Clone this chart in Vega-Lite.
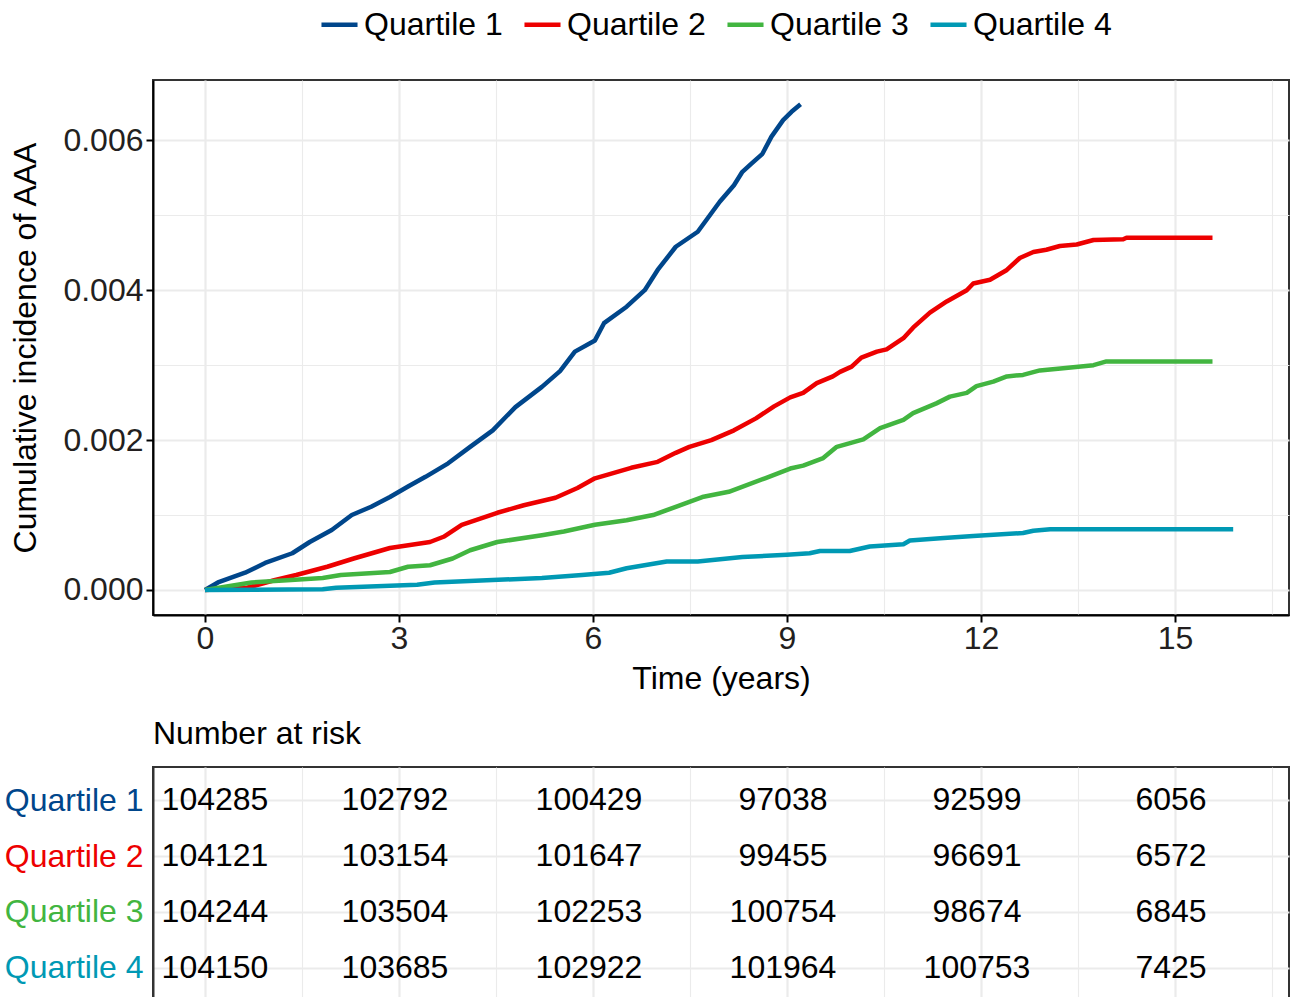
{
  "$schema": "https://vega.github.io/schema/vega-lite/v6.json",
  "background": "white",
  "padding": {"left": 3, "top": 4, "right": 0, "bottom": 0},
  "config": {
    "font": "Liberation Sans",
    "view": {"stroke": "#333333", "strokeWidth": 2},
    "axis": {"labelFont": "Liberation Sans", "titleFont": "Liberation Sans"}
  },
  "spacing": 22,
  "datasets": {
    "curves": [
      {"group": "Quartile 1", "t": 0, "v": 0},
      {"group": "Quartile 1", "t": 0.2, "v": 0.0001},
      {"group": "Quartile 1", "t": 0.62, "v": 0.00023},
      {"group": "Quartile 1", "t": 0.93, "v": 0.00036},
      {"group": "Quartile 1", "t": 1.35, "v": 0.00049},
      {"group": "Quartile 1", "t": 1.62, "v": 0.00064},
      {"group": "Quartile 1", "t": 1.96, "v": 0.0008},
      {"group": "Quartile 1", "t": 2.27, "v": 0.001},
      {"group": "Quartile 1", "t": 2.57, "v": 0.00111},
      {"group": "Quartile 1", "t": 2.86, "v": 0.00124},
      {"group": "Quartile 1", "t": 3.14, "v": 0.00138},
      {"group": "Quartile 1", "t": 3.41, "v": 0.00151},
      {"group": "Quartile 1", "t": 3.76, "v": 0.00169},
      {"group": "Quartile 1", "t": 4.1, "v": 0.00191},
      {"group": "Quartile 1", "t": 4.45, "v": 0.00213},
      {"group": "Quartile 1", "t": 4.8, "v": 0.00244},
      {"group": "Quartile 1", "t": 5.21, "v": 0.00271},
      {"group": "Quartile 1", "t": 5.49, "v": 0.00292},
      {"group": "Quartile 1", "t": 5.72, "v": 0.00318},
      {"group": "Quartile 1", "t": 6.03, "v": 0.00333},
      {"group": "Quartile 1", "t": 6.17, "v": 0.00356},
      {"group": "Quartile 1", "t": 6.52, "v": 0.00378},
      {"group": "Quartile 1", "t": 6.8, "v": 0.004},
      {"group": "Quartile 1", "t": 7.0, "v": 0.00427},
      {"group": "Quartile 1", "t": 7.28, "v": 0.00458},
      {"group": "Quartile 1", "t": 7.62, "v": 0.00478},
      {"group": "Quartile 1", "t": 7.79, "v": 0.00498},
      {"group": "Quartile 1", "t": 7.96, "v": 0.00518},
      {"group": "Quartile 1", "t": 8.18, "v": 0.0054},
      {"group": "Quartile 1", "t": 8.31, "v": 0.00558},
      {"group": "Quartile 1", "t": 8.45, "v": 0.00569},
      {"group": "Quartile 1", "t": 8.62, "v": 0.00582},
      {"group": "Quartile 1", "t": 8.76, "v": 0.00605},
      {"group": "Quartile 1", "t": 8.94, "v": 0.00627},
      {"group": "Quartile 1", "t": 9.07, "v": 0.00638},
      {"group": "Quartile 1", "t": 9.21, "v": 0.00648},
      {"group": "Quartile 2", "t": 0, "v": 0},
      {"group": "Quartile 2", "t": 0.65, "v": 0.00003},
      {"group": "Quartile 2", "t": 1.07, "v": 0.00013},
      {"group": "Quartile 2", "t": 1.41, "v": 0.0002},
      {"group": "Quartile 2", "t": 1.89, "v": 0.00031},
      {"group": "Quartile 2", "t": 2.3, "v": 0.00042},
      {"group": "Quartile 2", "t": 2.86, "v": 0.00056},
      {"group": "Quartile 2", "t": 3.48, "v": 0.00064},
      {"group": "Quartile 2", "t": 3.69, "v": 0.00071},
      {"group": "Quartile 2", "t": 3.97, "v": 0.00087},
      {"group": "Quartile 2", "t": 4.52, "v": 0.00103},
      {"group": "Quartile 2", "t": 4.93, "v": 0.00113},
      {"group": "Quartile 2", "t": 5.42, "v": 0.00123},
      {"group": "Quartile 2", "t": 5.76, "v": 0.00136},
      {"group": "Quartile 2", "t": 6.03, "v": 0.00149},
      {"group": "Quartile 2", "t": 6.59, "v": 0.00163},
      {"group": "Quartile 2", "t": 7.0, "v": 0.00171},
      {"group": "Quartile 2", "t": 7.28, "v": 0.00183},
      {"group": "Quartile 2", "t": 7.49, "v": 0.00191},
      {"group": "Quartile 2", "t": 7.83, "v": 0.002},
      {"group": "Quartile 2", "t": 8.18, "v": 0.00213},
      {"group": "Quartile 2", "t": 8.52, "v": 0.00229},
      {"group": "Quartile 2", "t": 8.8, "v": 0.00245},
      {"group": "Quartile 2", "t": 9.05, "v": 0.00257},
      {"group": "Quartile 2", "t": 9.25, "v": 0.00263},
      {"group": "Quartile 2", "t": 9.46, "v": 0.00276},
      {"group": "Quartile 2", "t": 9.71, "v": 0.00285},
      {"group": "Quartile 2", "t": 9.82, "v": 0.00291},
      {"group": "Quartile 2", "t": 10.0, "v": 0.00298},
      {"group": "Quartile 2", "t": 10.15, "v": 0.0031},
      {"group": "Quartile 2", "t": 10.39, "v": 0.00318},
      {"group": "Quartile 2", "t": 10.54, "v": 0.00321},
      {"group": "Quartile 2", "t": 10.8, "v": 0.00336},
      {"group": "Quartile 2", "t": 10.95, "v": 0.0035},
      {"group": "Quartile 2", "t": 11.21, "v": 0.0037},
      {"group": "Quartile 2", "t": 11.47, "v": 0.00385},
      {"group": "Quartile 2", "t": 11.78, "v": 0.004},
      {"group": "Quartile 2", "t": 11.88, "v": 0.00409},
      {"group": "Quartile 2", "t": 12.14, "v": 0.00414},
      {"group": "Quartile 2", "t": 12.4, "v": 0.00427},
      {"group": "Quartile 2", "t": 12.6, "v": 0.00443},
      {"group": "Quartile 2", "t": 12.81, "v": 0.00451},
      {"group": "Quartile 2", "t": 13.01, "v": 0.00454},
      {"group": "Quartile 2", "t": 13.22, "v": 0.00459},
      {"group": "Quartile 2", "t": 13.48, "v": 0.00461},
      {"group": "Quartile 2", "t": 13.74, "v": 0.00467},
      {"group": "Quartile 2", "t": 14.2, "v": 0.00468},
      {"group": "Quartile 2", "t": 14.25, "v": 0.0047},
      {"group": "Quartile 2", "t": 15.58, "v": 0.0047},
      {"group": "Quartile 3", "t": 0, "v": 0},
      {"group": "Quartile 3", "t": 0.72, "v": 0.0001},
      {"group": "Quartile 3", "t": 1.27, "v": 0.00013},
      {"group": "Quartile 3", "t": 1.82, "v": 0.00016},
      {"group": "Quartile 3", "t": 2.1, "v": 0.0002},
      {"group": "Quartile 3", "t": 2.86, "v": 0.00024},
      {"group": "Quartile 3", "t": 3.14, "v": 0.00031},
      {"group": "Quartile 3", "t": 3.48, "v": 0.00033},
      {"group": "Quartile 3", "t": 3.83, "v": 0.00042},
      {"group": "Quartile 3", "t": 4.1, "v": 0.00053},
      {"group": "Quartile 3", "t": 4.52, "v": 0.00064},
      {"group": "Quartile 3", "t": 5.21, "v": 0.00073},
      {"group": "Quartile 3", "t": 5.55, "v": 0.00078},
      {"group": "Quartile 3", "t": 6.03, "v": 0.00087},
      {"group": "Quartile 3", "t": 6.52, "v": 0.00093},
      {"group": "Quartile 3", "t": 6.93, "v": 0.001},
      {"group": "Quartile 3", "t": 7.28, "v": 0.00111},
      {"group": "Quartile 3", "t": 7.69, "v": 0.00124},
      {"group": "Quartile 3", "t": 8.1, "v": 0.00131},
      {"group": "Quartile 3", "t": 8.66, "v": 0.00149},
      {"group": "Quartile 3", "t": 9.05, "v": 0.00162},
      {"group": "Quartile 3", "t": 9.25, "v": 0.00166},
      {"group": "Quartile 3", "t": 9.56, "v": 0.00176},
      {"group": "Quartile 3", "t": 9.77, "v": 0.00191},
      {"group": "Quartile 3", "t": 10.18, "v": 0.00201},
      {"group": "Quartile 3", "t": 10.44, "v": 0.00216},
      {"group": "Quartile 3", "t": 10.8, "v": 0.00227},
      {"group": "Quartile 3", "t": 10.95, "v": 0.00236},
      {"group": "Quartile 3", "t": 11.31, "v": 0.00249},
      {"group": "Quartile 3", "t": 11.52, "v": 0.00258},
      {"group": "Quartile 3", "t": 11.78, "v": 0.00263},
      {"group": "Quartile 3", "t": 11.93, "v": 0.00272},
      {"group": "Quartile 3", "t": 12.19, "v": 0.00278},
      {"group": "Quartile 3", "t": 12.4, "v": 0.00285},
      {"group": "Quartile 3", "t": 12.65, "v": 0.00287},
      {"group": "Quartile 3", "t": 12.91, "v": 0.00293},
      {"group": "Quartile 3", "t": 13.27, "v": 0.00296},
      {"group": "Quartile 3", "t": 13.74, "v": 0.003},
      {"group": "Quartile 3", "t": 13.94, "v": 0.00305},
      {"group": "Quartile 3", "t": 15.58, "v": 0.00305},
      {"group": "Quartile 4", "t": 0, "v": 0},
      {"group": "Quartile 4", "t": 1.82, "v": 0.00001},
      {"group": "Quartile 4", "t": 2.03, "v": 0.00003},
      {"group": "Quartile 4", "t": 3.28, "v": 0.00007},
      {"group": "Quartile 4", "t": 3.55, "v": 0.0001},
      {"group": "Quartile 4", "t": 5.21, "v": 0.00016},
      {"group": "Quartile 4", "t": 5.83, "v": 0.0002},
      {"group": "Quartile 4", "t": 6.25, "v": 0.00023},
      {"group": "Quartile 4", "t": 6.52, "v": 0.00029},
      {"group": "Quartile 4", "t": 7.14, "v": 0.00038},
      {"group": "Quartile 4", "t": 7.62, "v": 0.00038},
      {"group": "Quartile 4", "t": 8.31, "v": 0.00044},
      {"group": "Quartile 4", "t": 9.0, "v": 0.00047},
      {"group": "Quartile 4", "t": 9.35, "v": 0.00049},
      {"group": "Quartile 4", "t": 9.51, "v": 0.00052},
      {"group": "Quartile 4", "t": 9.97, "v": 0.00052},
      {"group": "Quartile 4", "t": 10.28, "v": 0.00058},
      {"group": "Quartile 4", "t": 10.8, "v": 0.00061},
      {"group": "Quartile 4", "t": 10.9, "v": 0.00066},
      {"group": "Quartile 4", "t": 11.37, "v": 0.00069},
      {"group": "Quartile 4", "t": 11.88, "v": 0.00072},
      {"group": "Quartile 4", "t": 12.65, "v": 0.00076},
      {"group": "Quartile 4", "t": 12.81, "v": 0.00079},
      {"group": "Quartile 4", "t": 13.07, "v": 0.00081},
      {"group": "Quartile 4", "t": 15.9, "v": 0.00081}
    ],
    "risk": [
      {"group": "Quartile 1", "t": 0, "n": "104285"},
      {"group": "Quartile 1", "t": 3, "n": "102792"},
      {"group": "Quartile 1", "t": 6, "n": "100429"},
      {"group": "Quartile 1", "t": 9, "n": "97038"},
      {"group": "Quartile 1", "t": 12, "n": "92599"},
      {"group": "Quartile 1", "t": 15, "n": "6056"},
      {"group": "Quartile 2", "t": 0, "n": "104121"},
      {"group": "Quartile 2", "t": 3, "n": "103154"},
      {"group": "Quartile 2", "t": 6, "n": "101647"},
      {"group": "Quartile 2", "t": 9, "n": "99455"},
      {"group": "Quartile 2", "t": 12, "n": "96691"},
      {"group": "Quartile 2", "t": 15, "n": "6572"},
      {"group": "Quartile 3", "t": 0, "n": "104244"},
      {"group": "Quartile 3", "t": 3, "n": "103504"},
      {"group": "Quartile 3", "t": 6, "n": "102253"},
      {"group": "Quartile 3", "t": 9, "n": "100754"},
      {"group": "Quartile 3", "t": 12, "n": "98674"},
      {"group": "Quartile 3", "t": 15, "n": "6845"},
      {"group": "Quartile 4", "t": 0, "n": "104150"},
      {"group": "Quartile 4", "t": 3, "n": "103685"},
      {"group": "Quartile 4", "t": 6, "n": "102922"},
      {"group": "Quartile 4", "t": 9, "n": "101964"},
      {"group": "Quartile 4", "t": 12, "n": "100753"},
      {"group": "Quartile 4", "t": 15, "n": "7425"}
    ]
  },
  "vconcat": [
    {
      "width": 1136,
      "height": 535,
      "data": {"name": "curves"},
      "mark": {"type": "line", "strokeWidth": 4.5, "interpolate": "linear", "strokeJoin": "round"},
      "encoding": {
        "x": {
          "field": "t", "type": "quantitative",
          "scale": {"domain": [-0.804, 16.763], "nice": false, "zero": false},
          "axis": {
            "title": "Time (years)", "titleFontSize": 32, "titleFontWeight": "normal", "titleColor": "#000000", "titlePadding": 9,
            "values": [0, 1.5, 3, 4.5, 6, 7.5, 9, 10.5, 12, 13.5, 15, 16.5],
            "labelExpr": "datum.value % 3 == 0 ? format(datum.value, 'd') : ''",
            "labelFontSize": 32, "labelColor": "#231F20", "labelPadding": 1, "labelFlush": false,
            "domainColor": "#000000", "domainWidth": 2,
            "tickColor": "#000000", "tickWidth": 2, "tickSize": 7,
            "tickOpacity": {"condition": {"test": "datum.value % 3 == 0", "value": 1}, "value": 0},
            "grid": true, "gridColor": "#EBEBEB",
            "gridWidth": {"condition": {"test": "datum.value % 3 == 0", "value": 2.2}, "value": 1.1}
          }
        },
        "y": {
          "field": "v", "type": "quantitative",
          "scale": {"domain": [-0.000334, 0.006805], "nice": false, "zero": false},
          "axis": {
            "title": "Cumulative incidence of AAA", "titleFontSize": 32, "titleFontWeight": "normal", "titleColor": "#000000", "titlePadding": 20,
            "values": [0, 0.001, 0.002, 0.003, 0.004, 0.005, 0.006],
            "labelExpr": "round(datum.value * 1000) % 2 == 0 ? format(datum.value, '.3f') : ''",
            "labelFontSize": 32, "labelColor": "#231F20", "labelPadding": 3,
            "domainColor": "#000000", "domainWidth": 2,
            "tickColor": "#000000", "tickWidth": 2, "tickSize": 7,
            "tickOpacity": {"condition": {"test": "round(datum.value * 1000) % 2 == 0", "value": 1}, "value": 0},
            "grid": true, "gridColor": "#EBEBEB",
            "gridWidth": {"condition": {"test": "round(datum.value * 1000) % 2 == 0", "value": 2.2}, "value": 1.1}
          }
        },
        "color": {
          "field": "group", "type": "nominal",
          "scale": {"domain": ["Quartile 1", "Quartile 2", "Quartile 3", "Quartile 4"], "range": ["#00468B", "#ED0000", "#42B540", "#0099B4"]},
          "legend": {
            "orient": "none", "legendX": 166, "legendY": -76, "direction": "horizontal", "title": null,
            "symbolType": "stroke", "symbolStrokeWidth": 4.5, "symbolSize": 1300,
            "labelFontSize": 32, "labelFont": "Liberation Sans", "labelColor": "#000000", "labelLimit": 0,
            "columnPadding": 12, "labelOffset": 4
          }
        }
      }
    },
    {
      "width": 1136,
      "height": 234,
      "title": {"text": "Number at risk", "anchor": "start", "frame": "group", "fontSize": 32, "fontWeight": "normal", "font": "Liberation Sans", "color": "#000000", "offset": 16},
      "data": {"name": "risk"},
      "encoding": {
        "x": {
          "field": "t", "type": "quantitative",
          "scale": {"domain": [-0.804, 16.763], "nice": false, "zero": false},
          "axis": {
            "title": null, "labels": false, "ticks": false, "domain": false,
            "values": [0, 1.5, 3, 4.5, 6, 7.5, 9, 10.5, 12, 13.5, 15, 16.5],
            "grid": true, "gridColor": "#EBEBEB",
            "gridWidth": {"condition": {"test": "datum.value % 3 == 0", "value": 2.2}, "value": 1.1}
          }
        },
        "y": {
          "field": "group", "type": "nominal",
          "scale": {"type": "point", "padding": 0.59, "domain": ["Quartile 1", "Quartile 2", "Quartile 3", "Quartile 4"]},
          "axis": {
            "title": null, "ticks": false, "domainColor": "#333333", "domainWidth": 2,
            "labelFontSize": 32, "labelPadding": 10, "labelLimit": 0,
            "labelColor": {"condition": [
              {"test": "datum.value == 'Quartile 1'", "value": "#00468B"},
              {"test": "datum.value == 'Quartile 2'", "value": "#ED0000"},
              {"test": "datum.value == 'Quartile 3'", "value": "#42B540"}
            ], "value": "#0099B4"},
            "grid": true, "gridColor": "#EBEBEB", "gridWidth": 2.2
          }
        },
        "text": {"field": "n", "type": "nominal"}
      },
      "layer": [
        {
          "transform": [{"filter": "datum.t == 0"}],
          "mark": {"type": "text", "fontSize": 32, "font": "Liberation Sans", "color": "#000000", "align": "center", "baseline": "middle", "dx": 10}
        },
        {
          "transform": [{"filter": "datum.t > 0"}],
          "mark": {"type": "text", "fontSize": 32, "font": "Liberation Sans", "color": "#000000", "align": "center", "baseline": "middle", "dx": -4}
        }
      ]
    }
  ]
}
